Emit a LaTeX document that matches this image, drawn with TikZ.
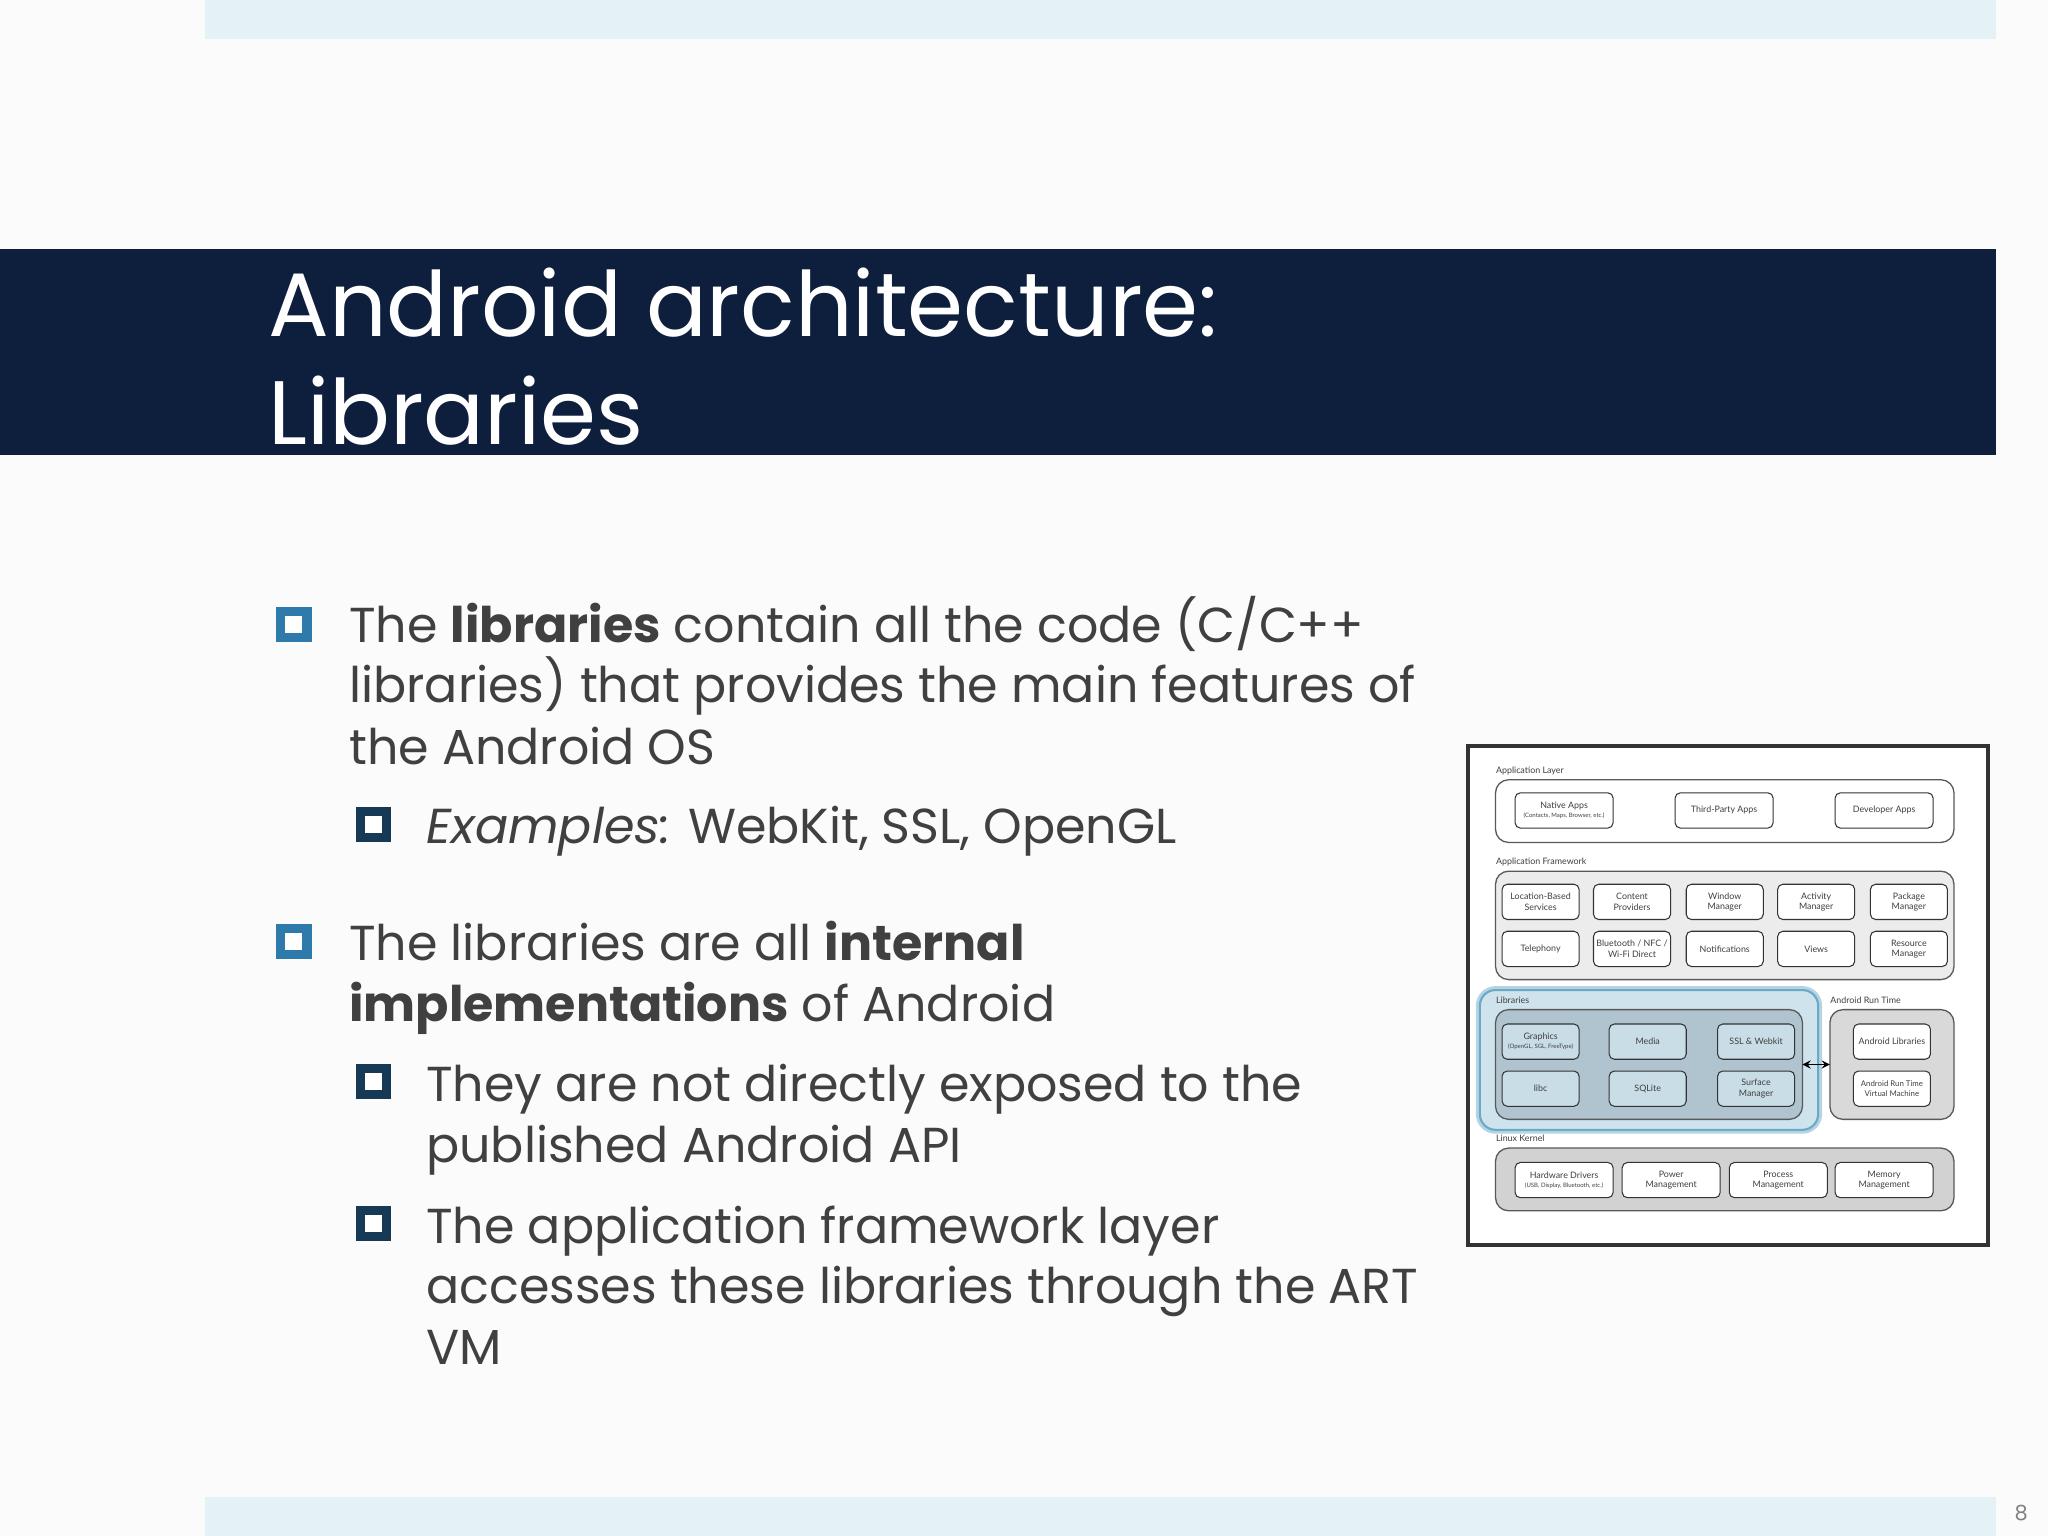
\documentclass[tikz,border=0pt]{standalone}
\usepackage{fontspec}
\setmainfont{Poppins}
\newfontfamily\dfont{Lato}
\definecolor{band}{HTML}{E4F2F5}
\definecolor{navy}{HTML}{0E1F3D}
\definecolor{bblue}{HTML}{2E7BAB}
\definecolor{bdark}{HTML}{163A55}
\definecolor{libout}{HTML}{CFE3EC}
\definecolor{libedge}{HTML}{6AA9C8}
\definecolor{libin}{HTML}{AFC4CE}
\definecolor{libbox}{HTML}{C9DDE6}
\definecolor{txt}{HTML}{404040}
\tikzset{
 body/.style={anchor=base west,inner sep=0,font=\fontsize{18.8}{20}\selectfont,text=txt},
 layer/.style={draw=gray!70!black,rounded corners=5,line width=0.5pt},
 cell/.style={draw=gray!40!black,fill=white,rounded corners=2,line width=0.4pt,align=center,font=\dfont\fontsize{3.4}{4}\selectfont,text=txt,inner sep=0},
 sbox/.style={minimum width=29.5pt,minimum height=13.5pt},
 wbox/.style={minimum width=37.5pt,minimum height=13.5pt},
 lab/.style={anchor=base west,inner sep=0,font=\dfont\fontsize{3.4}{4}\selectfont,text=txt},
}
\newcommand{\mybullet}[3]{\fill[#3] (#1-13.5,#2-13.5) rectangle (#1+13.5,#2+13.5);
 \fill[white] (#1-6.5,#2-6.5) rectangle (#1+6.5,#2+6.5);}
\begin{document}
\begin{tikzpicture}[x=0.5pt,y=-0.5pt]
\useasboundingbox (0,0) rectangle (1568,1176);
\fill[white!97!gray] (0,0) rectangle (1568,1176);
\fill[band] (157,0) rectangle (1528,30);
\fill[band] (157,1146) rectangle (1528,1176);
\fill[navy] (0,191) rectangle (1528,348);
\node[anchor=base west,inner sep=0,text=white,font=\fontsize{34.5}{36}\selectfont] (t1) at (205,258) {Android architecture:};
\node[anchor=base west,inner sep=0,text=white,font=\fontsize{34.5}{36}\selectfont] (t2) at (205,340) {Libraries};
\node[anchor=base east,inner sep=0,text=gray,font=\fontsize{8}{9}\selectfont] (pg) at (1553,1164) {8};
% bullets
\mybullet{225}{478}{bblue}
\mybullet{286}{631}{bdark}
\mybullet{225}{721}{bblue}
\mybullet{286}{828}{bdark}
\mybullet{286}{937}{bdark}
\node[body] (a1) at (267,492) {The \textbf{libraries} contain all the code (C/C++};
\node[body] (a2) at (267,538) {libraries) that provides the main features of};
\node[body] (a3) at (267,585) {the Android OS};
\node[body] (b1) at (326,646) {\textit{Examples:} WebKit, SSL, OpenGL};
\node[body] (c1) at (267,735) {The libraries are all \textbf{internal}};
\node[body] (c2) at (267,782) {\textbf{implementations} of Android};
\node[body] (d1) at (326,843) {They are not directly exposed to the};
\node[body] (d2) at (326,890) {published Android API};
\node[body] (e1) at (326,952) {The application framework layer};
\node[body] (e2) at (326,998) {accesses these libraries through the ART};
\node[body] (e3) at (326,1045) {VM};
% diagram
\draw[line width=1.5pt,draw=gray!40!black,fill=white] (1124,571) rectangle (1522,953);
\node[lab] (l1) at (1145,592) {Application Layer};
\draw[layer,fill=white] (1145,597) rectangle (1496,645);
\node[cell,wbox] (na) at (1197.5,620.5) {Native Apps\\[-0.5pt]{\fontsize{2.3}{3}\selectfont(Contacts, Maps, Browser, etc.)}};
\node[cell,wbox] (tp) at (1320,620.5) {Third-Party Apps};
\node[cell,wbox] (da) at (1442.5,620.5) {Developer Apps};
\node[lab] (l2) at (1145,662) {Application Framework};
\draw[layer,fill=gray!15] (1145,667) rectangle (1496,750);
\foreach \x/\n/\t in {1179.5/f1/{Location-Based\\Services},1249.5/f2/{Content\\Providers},1320.5/f3/{Window\\Manager},1390.5/f4/{Activity\\Manager},1461.5/f5/{Package\\Manager}}
 \node[cell,sbox] (\n) at (\x,690.5) {\t};
\foreach \x/\n/\t in {1179.5/g1/{Telephony},1249.5/g2/{Bluetooth / NFC /\\Wi-Fi Direct},1320.5/g3/{Notifications},1390.5/g4/{Views},1461.5/g5/{Resource\\Manager}}
 \node[cell,sbox] (\n) at (\x,726.5) {\t};
% libraries
\draw[libedge!50,line width=3pt,rounded corners=6] (1133,758) rectangle (1392,865);
\draw[libedge,line width=0.8pt,rounded corners=6,fill=libout] (1133,758) rectangle (1392,865);
\node[lab] (l3) at (1145,768) {Libraries};
\draw[layer,fill=libin] (1145,773) rectangle (1380,857);
\foreach \x/\n/\t in {1179.5/h1/{Graphics\\[-0.5pt]{\fontsize{2.3}{3}\selectfont(OpenGL, SGL, FreeType)}},1261.5/h2/{Media},1344.5/h3/{SSL \& Webkit}}
 \node[cell,sbox,fill=libbox] (\n) at (\x,797.5) {\t};
\foreach \x/\n/\t in {1179.5/i1/{libc},1261.5/i2/{SQLite},1344.5/i3/{Surface\\Manager}}
 \node[cell,sbox,fill=libbox] (\n) at (\x,833.5) {\t};
\node[lab] (l4) at (1401,768) {Android Run Time};
\draw[layer,fill=gray!30] (1401,773) rectangle (1496,857);
\node[cell,sbox] (r1) at (1448.5,797.5) {Android Libraries};
\node[cell,sbox,font=\dfont\fontsize{3}{3.6}\selectfont] (r2) at (1448.5,833.5) {Android Run Time\\Virtual Machine};
\coordinate (p1) at (1380,815);
\coordinate (p2) at (1401,815);
\draw[<->,>=stealth,line width=0.4pt] (p1) -- (p2);
\node[lab] (l5) at (1145,874) {Linux Kernel};
\draw[layer,fill=gray!35] (1145,879) rectangle (1496,927);
\foreach \x/\n/\t in {1197.5/k1/{Hardware Drivers\\[-0.5pt]{\fontsize{2.3}{3}\selectfont(USB, Display, Bluetooth, etc.)}},1279.5/k2/{Power\\Management},1361.5/k3/{Process\\Management},1442.5/k4/{Memory\\Management}}
 \node[cell,wbox] (\n) at (\x,903.5) {\t};
\end{tikzpicture}
\end{document}
